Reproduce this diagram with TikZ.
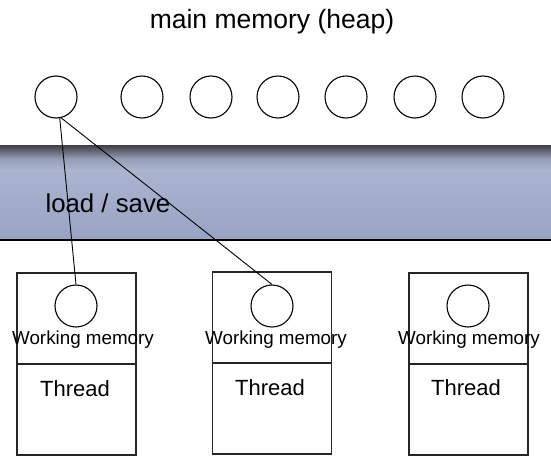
\documentclass[tikz,border=0pt]{standalone}
\usepackage{fontspec}
\setmainfont{Liberation Sans}
\definecolor{bandlow}{RGB}{152,163,196}
\definecolor{bandmid}{RGB}{171,181,208}
\definecolor{bandhi}{RGB}{148,156,180}
\definecolor{banddark}{RGB}{98,101,115}
\definecolor{bandtop}{RGB}{62,64,72}
\pgfdeclareverticalshading{busband}{100bp}{color(0bp)=(bandlow); color(25bp)=(bandlow); color(62bp)=(bandmid); color(68bp)=(bandhi); color(72bp)=(banddark); color(75bp)=(bandtop); color(100bp)=(bandtop)}
\begin{document}
\begin{tikzpicture}[x=1pt,y=-1pt,
  obj/.style={draw, circle, line width=1.1pt, minimum size=42pt, inner sep=0pt},
  threadbox/.style={draw, line width=1.6pt, color=black!85, minimum width=119pt, minimum height=182pt, inner sep=0pt}]
\useasboundingbox (0,0) rectangle (551,466);

% the bus between heap and threads
\shade[shading=busband] (0,145) rectangle (551,240);
\draw[line width=1.2pt] (0,240) -- (551,240);

\node (title) at (272,22) {\fontsize{26.5}{29}\selectfont main memory (heap)};
\node[anchor=west] (bus) at (42,203) {\fontsize{25.8}{28}\selectfont load / save};

\node[obj] (h1) at (56,97) {};
\node[obj] (h2) at (142,97) {};
\node[obj] (h3) at (211,97) {};
\node[obj] (h4) at (278,97) {};
\node[obj] (h5) at (346,97) {};
\node[obj] (h6) at (415,97) {};
\node[obj] (h7) at (483,97) {};

\node[threadbox] (t1) at (76.5,364) {};
\node[threadbox] (t2) at (272,363) {};
\node[threadbox] (t3) at (468.5,364) {};
\draw[line width=1.6pt, color=black!85] (t1.west) -- (t1.east);
\draw[line width=1.6pt, color=black!85] (t2.west) -- (t2.east);
\draw[line width=1.6pt, color=black!85] (t3.west) -- (t3.east);

\node[obj] (w1) at (76,306) {};
\node[obj] (w2) at (272,306) {};
\node[obj] (w3) at (468,306) {};

\node (wm1) at (83,340) {\fontsize{18.8}{20}\selectfont Working memory};
\node (wm2) at (276,340) {\fontsize{18.8}{20}\selectfont Working memory};
\node (wm3) at (469,340) {\fontsize{18.8}{20}\selectfont Working memory};
\node (th1) at (75,389) {\fontsize{22}{24}\selectfont Thread};
\node (th2) at (270,388) {\fontsize{22}{24}\selectfont Thread};
\node (th3) at (466,388) {\fontsize{22}{24}\selectfont Thread};

\path[draw,line width=0.9pt] (h1.-80) -- (w1.north);
\path[draw,line width=0.9pt] (h1.-76) -- (w2.north);
\end{tikzpicture}
\end{document}
